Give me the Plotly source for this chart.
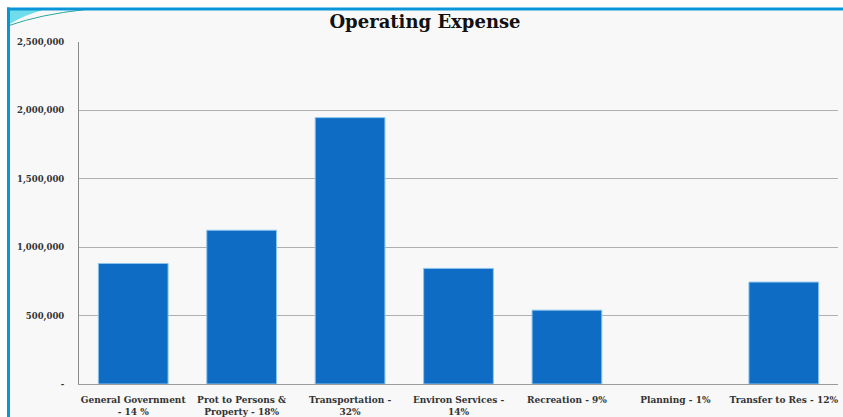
import plotly.graph_objects as go

categories = [
    "General Government<br>- 14 %",
    "Prot to Persons &<br>Property - 18%",
    "Transportation -<br>32%",
    "Environ Services -<br>14%",
    "Recreation - 9%",
    "Planning - 1%",
    "Transfer to Res - 12%",
]
values = [881000, 1124000, 1947000, 845000, 540000, None, 745000]
ytick_vals = [0, 500000, 1000000, 1500000, 2000000, 2500000]
ytick_text = ["-", "500,000", "1,000,000", "1,500,000", "2,000,000", "2,500,000"]

W, H = 843, 417
L, R, T, B = 79, 843 - 838, 41.5, 417 - 384
pw, ph = W - L - R, H - T - B

def px(x):
    return (x - L) / pw

def py(y):
    return (H - B - y) / ph

font_family = "DejaVu Serif"

fig = go.Figure()
fig.add_trace(go.Bar(
    x=categories, y=values,
    marker=dict(color="#0f6cc4", line=dict(color="#8cc4ee", width=1)),
    width=0.643,
))

shapes = [
    dict(type="rect", xref="paper", yref="paper", x0=px(8), x1=px(843), y0=py(417), y1=py(8),
         fillcolor="#f8f8f8", line=dict(width=0), layer="below"),
    dict(type="path", xref="paper", yref="paper",
         path=f"M {px(9)},{py(9)} L {px(45)},{py(9)} Q {px(25)},{py(14)} {px(9)},{py(24)} Z",
         fillcolor="#6fdcec", line=dict(width=0), layer="below"),
    dict(type="path", xref="paper", yref="paper",
         path=f"M {px(9)},{py(25)} Q {px(40)},{py(14)} {px(85)},{py(9)}",
         line=dict(color="#2aa79a", width=1), layer="below"),
    dict(type="line", xref="paper", yref="paper", x0=px(7), x1=px(843), y0=py(8.5), y1=py(8.5),
         line=dict(color="#0a96d6", width=3)),
    dict(type="line", xref="paper", yref="paper", x0=px(8.5), x1=px(8.5), y0=py(7), y1=py(417),
         line=dict(color="#0a96d6", width=3)),
]

fig.update_layout(
    width=W, height=H,
    margin=dict(l=L, r=R, t=T, b=B, autoexpand=False),
    paper_bgcolor="white",
    plot_bgcolor="rgba(0,0,0,0)",
    showlegend=False,
    bargap=0.357,
    title=dict(text="<b>Operating Expense</b>", x=425 / W, xanchor="center",
               y=1 - 21.5 / H, yanchor="middle",
               font=dict(family=font_family, size=18, color="#111111")),
    shapes=shapes,
    xaxis=dict(
        showgrid=False, showline=True, linecolor="#9a9a9a", linewidth=1,
        ticks="", ticklabelstandoff=7, automargin=False,
        tickfont=dict(family=font_family, size=9, color="#333333", weight="bold"),
        tickangle=0, fixedrange=True,
    ),
    yaxis=dict(
        range=[0, 2500000], tickvals=ytick_vals, ticktext=ytick_text,
        showgrid=True, gridcolor="#b0b0b0", gridwidth=1,
        showline=True, linecolor="#8a8a8a", linewidth=1,
        zeroline=False, ticks="", ticklabelstandoff=12, automargin=False,
        tickfont=dict(family=font_family, size=8.5, color="#333333", weight="bold"),
        fixedrange=True,
    ),
)

fig.write_html(
    "out.html",
    config={"displayModeBar": False},
    post_script="document.body.style.margin='0';document.body.style.overflow='hidden';",
)
